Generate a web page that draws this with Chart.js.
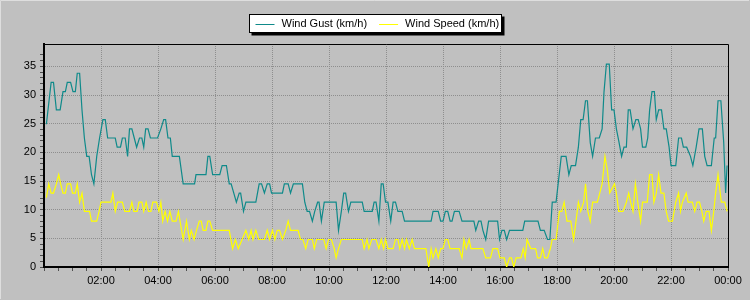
<!DOCTYPE html>
<html lang="en">
<head>
  <meta charset="UTF-8">
  <title>Wind Gust / Wind Speed</title>
  <script src="https://cdn.jsdelivr.net/npm/chart.js"></script>
  <style>
    html, body {
      margin: 0;
      padding: 0;
      background: #c0c0c0;
    }
    #wrap {
      width: 750px;
      height: 300px;
    }
  </style>
</head>
<body>
  <div id="wrap">
    <canvas id="windChart" width="750" height="300"></canvas>
  </div>

  <script>
    // minutes since midnight
    const gustTimes = [5, 15, 20, 26, 34, 40, 45, 49, 56, 61, 66, 70, 75, 80, 85, 90, 95, 100, 105, 111, 117, 124, 129, 134,
      150, 154, 161, 165, 171, 176, 180, 185, 190, 195, 201, 206, 210, 214, 219, 224, 239, 246, 252, 256, 261, 266, 270,
      285, 293, 317, 320, 341, 345, 349, 355, 370, 375, 384, 390, 394, 405, 411, 414, 420, 425, 446, 453, 458, 464, 470,
      475, 479, 502, 506, 514, 519, 525, 544, 549, 554, 559, 565, 570, 576, 579, 584, 590, 615, 620, 626, 631, 635, 641,
      646, 670, 674, 691, 695, 699, 705, 710, 714, 719, 724, 730, 735, 740, 745, 754, 759, 815, 819, 830, 835, 840, 845,
      850, 855, 859, 864, 874, 880, 905, 909, 915, 920, 924, 930, 936, 955, 959, 964, 969, 974, 980, 1008, 1012, 1040,
      1045, 1053, 1060, 1065, 1070, 1078, 1089, 1099, 1105, 1110, 1119, 1125, 1130, 1135, 1140, 1144, 1150, 1155, 1161,
      1169, 1175, 1179, 1184, 1190, 1195, 1200, 1205, 1210, 1216, 1221, 1226, 1230, 1234, 1240, 1246, 1251, 1256, 1260,
      1267, 1271, 1275, 1280, 1285, 1289, 1294, 1300, 1305, 1310, 1316, 1320, 1330, 1336, 1342, 1346, 1353, 1361, 1366,
      1373, 1379, 1386, 1391, 1396, 1405, 1411, 1414, 1419, 1425, 1431, 1435, 1438];
    const gustValues = [24.9, 32.2, 32.2, 27.4, 27.4, 30.6, 30.6, 32.2, 32.2, 30.6, 30.6, 33.8, 33.8, 27.4, 22.5, 19.3, 19.3,
      16.1, 14.5, 19.3, 22.5, 25.7, 25.7, 22.5, 22.5, 20.9, 20.9, 22.5, 22.5, 19.3, 24.1, 24.1, 22.5, 20.9, 22.5, 22.5,
      20.9, 24.1, 24.1, 22.5, 22.5, 24.1, 25.7, 25.7, 22.5, 22.5, 19.3, 19.3, 14.5, 14.5, 16.1, 16.1, 19.3, 19.3, 16.1,
      16.1, 17.7, 17.7, 14.5, 14.5, 11.3, 12.9, 12.9, 9.7, 11.3, 11.3, 14.5, 14.5, 12.9, 14.5, 14.5, 12.9, 12.9, 14.5,
      14.5, 12.9, 14.5, 14.5, 11.3, 9.7, 9.7, 8.0, 9.7, 11.3, 11.3, 8.0, 11.3, 11.3, 6.4, 9.7, 12.9, 12.9, 9.7, 11.3,
      11.3, 9.7, 9.7, 11.3, 11.3, 8.0, 14.5, 14.5, 11.3, 11.3, 8.0, 11.3, 11.3, 9.7, 9.7, 8.0, 8.0, 9.7, 9.7, 8.0, 8.0,
      9.7, 9.7, 8.0, 8.0, 9.7, 9.7, 8.0, 8.0, 6.4, 8.0, 8.0, 6.4, 4.8, 8.0, 8.0, 4.8, 6.4, 6.4, 4.8, 6.4, 6.4, 8.0, 8.0,
      6.4, 6.4, 4.8, 4.8, 11.3, 11.3, 19.3, 19.3, 16.1, 17.7, 17.7, 20.9, 25.7, 25.7, 29.0, 29.0, 21.7, 19.3, 22.5,
      22.5, 24.1, 30.6, 35.4, 35.4, 27.4, 27.4, 24.1, 22.0, 19.3, 20.9, 20.9, 27.4, 27.4, 24.1, 25.7, 25.7, 24.1, 20.9,
      20.9, 22.5, 27.4, 30.6, 30.6, 25.7, 27.4, 27.4, 24.1, 24.1, 20.9, 17.7, 17.7, 22.5, 22.5, 20.9, 20.9, 19.3, 17.7,
      20.9, 24.1, 24.1, 19.3, 17.7, 17.7, 22.5, 22.5, 29.0, 29.0, 21.7, 12.9, 17.7];

    const speedTimes = [5, 10, 15, 20, 26, 31, 35, 40, 45, 49, 56, 60, 66, 70, 75, 80, 85, 96, 100, 111, 116, 120, 141, 145,
      150, 155, 165, 170, 180, 185, 189, 196, 200, 206, 210, 215, 220, 225, 229, 237, 242, 246, 250, 255, 260, 265, 270,
      278, 283, 293, 300, 306, 310, 316, 321, 327, 331, 335, 341, 345, 349, 355, 390, 397, 403, 409, 417, 425, 431, 436,
      440, 446, 452, 464, 470, 475, 481, 486, 491, 496, 502, 509, 514, 519, 535, 540, 545, 551, 556, 565, 569, 574, 589,
      594, 599, 605, 611, 615, 620, 626, 670, 674, 680, 684, 690, 699, 705, 710, 715, 719, 724, 735, 740, 745, 749, 754,
      759, 763, 769, 775, 780, 804, 810, 815, 819, 825, 830, 835, 840, 845, 850, 855, 874, 880, 884, 889, 895, 899, 924,
      930, 940, 945, 955, 960, 969, 974, 980, 984, 989, 994, 1004, 1009, 1013, 1017, 1025, 1035, 1039, 1045, 1050, 1054,
      1060, 1066, 1070, 1078, 1085, 1090, 1095, 1101, 1109, 1115, 1120, 1125, 1130, 1136, 1140, 1145, 1150, 1155, 1165,
      1170, 1175, 1181, 1186, 1191, 1201, 1205, 1210, 1219, 1226, 1231, 1235, 1240, 1245, 1250, 1256, 1260, 1270, 1275,
      1280, 1284, 1289, 1294, 1299, 1305, 1310, 1315, 1323, 1330, 1336, 1340, 1344, 1352, 1356, 1365, 1370, 1375, 1380,
      1385, 1389, 1394, 1400, 1405, 1410, 1414, 1419, 1426, 1433, 1438];
    const speedValues = [12.1, 14.5, 12.9, 12.9, 14.5, 16.1, 14.5, 12.9, 12.9, 14.5, 14.5, 12.9, 12.9, 14.5, 11.3, 12.9,
      9.7, 9.7, 8.0, 8.0, 9.7, 11.3, 11.3, 12.9, 9.7, 11.3, 11.3, 9.7, 9.7, 11.3, 9.7, 9.7, 11.3, 11.3, 9.7, 11.3, 9.7,
      9.7, 11.3, 11.3, 9.7, 11.3, 8.0, 9.7, 8.0, 9.7, 8.0, 8.0, 9.7, 4.8, 8.0, 4.8, 6.4, 4.8, 6.4, 8.0, 8.0, 6.4, 6.4,
      8.0, 8.0, 6.4, 6.4, 3.2, 4.8, 3.2, 4.8, 6.4, 4.8, 6.4, 4.8, 6.4, 4.8, 4.8, 6.4, 4.8, 6.4, 4.8, 6.4, 6.4, 4.8, 6.4,
      8.0, 6.4, 6.4, 4.8, 4.8, 3.2, 4.8, 4.8, 3.2, 4.8, 4.8, 3.2, 4.8, 4.8, 3.2, 1.6, 3.2, 4.8, 4.8, 3.2, 4.8, 3.2, 4.8,
      4.8, 3.2, 4.8, 3.2, 4.8, 3.2, 3.2, 4.8, 4.8, 3.2, 4.8, 3.2, 4.8, 3.2, 4.8, 3.2, 3.2, 0, 3.2, 1.6, 3.2, 1.6, 3.2,
      3.2, 4.8, 4.8, 3.2, 3.2, 1.6, 4.8, 3.2, 4.8, 3.2, 3.2, 1.6, 1.6, 3.2, 3.2, 1.6, 1.6, 0, 1.6, 1.6, 0, 1.6, 1.6,
      3.2, 1.6, 4.8, 3.2, 3.2, 1.6, 1.6, 3.2, 1.6, 1.6, 3.2, 4.8, 4.8, 9.7, 9.7, 11.3, 8.0, 8.0, 4.8, 8.0, 11.3, 9.7,
      11.3, 14.5, 9.7, 8.0, 11.3, 11.3, 12.9, 14.5, 19.3, 16.9, 12.9, 14.5, 12.9, 9.7, 9.7, 11.3, 12.9, 11.3, 9.7, 14.5,
      11.3, 8.0, 11.3, 11.3, 16.1, 16.1, 11.3, 12.9, 16.1, 12.9, 12.9, 9.7, 8.0, 8.0, 11.3, 12.9, 9.7, 11.3, 12.9, 11.3,
      11.3, 9.7, 11.3, 11.3, 9.7, 8.0, 9.7, 9.7, 6.4, 9.7, 12.9, 16.1, 11.3, 11.3, 9.7];

    const seriesLabels = ['Wind Gust (km/h)', 'Wind Speed (km/h)'];
    const seriesColors = ['#0f8a8a', '#ffff00'];
    const yTickStep = 5;
    const xLabelStep = 120;

    function toPoints(times, values) {
      return times.map((t, i) => ({ x: t, y: values[i] }));
    }

    function hhmm(m) {
      let h = Math.floor(m / 60) % 24;
      return String(h).padStart(2, '0') + ':00';
    }

    const FONT = '"Liberation Sans", Arial, sans-serif';
    Chart.defaults.font.family = FONT;
    Chart.defaults.font.size = 11;
    Chart.defaults.color = '#000';

    // top/right frame, window edge and the boxed legend
    const frameLegend = {
      id: 'frameLegend',
      afterDraw(chart) {
        const ctx = chart.ctx;
        const a = chart.chartArea;
        ctx.save();

        ctx.strokeStyle = '#000';
        ctx.lineWidth = 1;
        ctx.beginPath();
        ctx.moveTo(a.left, a.top + 0.5);
        ctx.lineTo(a.right + 0.5, a.top + 0.5);
        ctx.lineTo(a.right + 0.5, a.bottom);
        ctx.stroke();

        ctx.strokeStyle = '#dedede';
        ctx.beginPath();
        ctx.moveTo(0.5, 299);
        ctx.lineTo(0.5, 0.5);
        ctx.lineTo(749, 0.5);
        ctx.stroke();

        ctx.font = '11px ' + FONT;
        const ds = chart.data.datasets;
        const lineLen = 19, gapText = 7, gapItem = 12, padL = 6, padR = 2;
        let total = padL + padR;
        ds.forEach((d, i) => {
          total += lineLen + gapText + ctx.measureText(d.label).width + (i ? gapItem : 0);
        });
        const bx = Math.round(374.5 - total / 2) + 0.5;
        const by = 14.5, bh = 18;
        const bw = Math.round(total);

        ctx.fillStyle = '#000';
        ctx.fillRect(bx + 2, by + 2, bw + 1, bh + 1);
        ctx.fillStyle = '#fff';
        ctx.fillRect(bx, by, bw, bh);
        ctx.strokeStyle = '#000';
        ctx.strokeRect(bx, by, bw, bh);

        let x = bx + padL;
        const cy = by + bh / 2;
        ctx.textBaseline = 'middle';
        ctx.textAlign = 'left';
        ds.forEach((d, i) => {
          if (i) x += gapItem;
          ctx.strokeStyle = d.borderColor;
          ctx.lineWidth = 1;
          ctx.beginPath();
          ctx.moveTo(x, Math.round(cy) + 0.5);
          ctx.lineTo(x + lineLen, Math.round(cy) + 0.5);
          ctx.stroke();
          x += lineLen + gapText;
          ctx.fillStyle = '#000';
          ctx.fillText(d.label, x, cy + 0.5);
          x += ctx.measureText(d.label).width;
        });
        ctx.restore();
      }
    };

    const ctx = document.getElementById('windChart').getContext('2d');
    const windChart = new Chart(ctx, {
      type: 'line',
      data: {
        datasets: [{
          label: seriesLabels[0],
          data: toPoints(gustTimes, gustValues),
          borderColor: seriesColors[0],
          borderWidth: 1.2,
          pointRadius: 0,
          tension: 0,
          fill: false
        }, {
          label: seriesLabels[1],
          data: toPoints(speedTimes, speedValues),
          borderColor: seriesColors[1],
          borderWidth: 1.2,
          pointRadius: 0,
          tension: 0,
          fill: false
        }]
      },
      options: {
        responsive: false,
        animation: false,
        layout: { padding: { top: 44, right: 22, left: 0, bottom: 0 } },
        plugins: {
          legend: { display: false },
          tooltip: { enabled: false }
        },
        scales: {
          x: {
            type: 'linear',
            min: 0,
            max: 1440,
            afterFit: (s) => { s.height = 33; },
            ticks: {
              stepSize: 30,
              autoSkip: false,
              maxRotation: 0,
              padding: 3,
              callback: (v) => (v % xLabelStep === 0 && v > 0) ? hhmm(v) : ''
            },
            grid: {
              color: (c) => (c.tick && c.tick.value % xLabelStep === 0 && c.tick.value > 0 && c.tick.value < 1440) ? '#8e8e8e' : 'transparent',
              tickColor: '#505050',
              tickLength: 4,
              lineWidth: 1
            },
            border: { display: true, color: '#000', width: 2, dash: [1, 1] }
          },
          y: {
            min: 0,
            max: 38.9,
            afterFit: (s) => { s.width = 44; },
            afterBuildTicks: (s) => { s.ticks = s.ticks.filter(t => Number.isInteger(t.value)); },
            ticks: {
              stepSize: 1,
              autoSkip: false,
              padding: 4,
              callback: (v) => (v % yTickStep === 0) ? v : ''
            },
            grid: {
              color: (c) => (c.tick && c.tick.value % yTickStep === 0 && c.tick.value > 0) ? '#8e8e8e' : 'transparent',
              tickColor: '#505050',
              tickLength: 4,
              lineWidth: 1
            },
            border: { display: true, color: '#000', width: 2, dash: [1, 1] }
          }
        }
      },
      plugins: [frameLegend]
    });
  </script>
</body>
</html>
